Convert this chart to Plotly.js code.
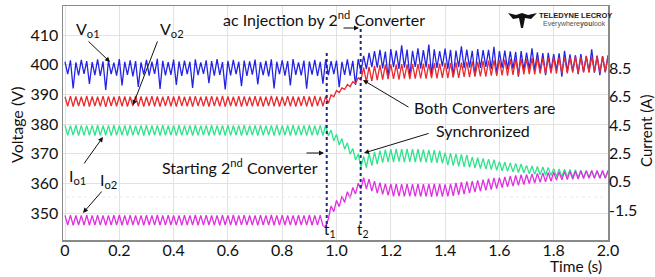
<!DOCTYPE html>
<html><head><meta charset="utf-8">
<script src="https://cdn.plot.ly/plotly-3.0.1.min.js"></script>
<style>html,body{margin:0;padding:0;background:#fff;}#chart{width:655px;height:277px;}</style>
</head><body><div id="chart"></div>
<script>
// ---- data ----
const time = [
0,0.01,0.02,0.03,0.04,0.05,0.06,0.07,0.08,0.09,
0.1,0.11,0.12,0.13,0.14,0.15,0.16,0.17,0.18,0.19,
0.2,0.21,0.22,0.23,0.24,0.25,0.26,0.27,0.28,0.29,
0.3,0.31,0.32,0.33,0.34,0.35,0.36,0.37,0.38,0.39,
0.4,0.41,0.42,0.43,0.44,0.45,0.46,0.47,0.48,0.49,
0.5,0.51,0.52,0.53,0.54,0.55,0.56,0.57,0.58,0.59,
0.6,0.61,0.62,0.63,0.64,0.65,0.66,0.67,0.68,0.69,
0.7,0.71,0.72,0.73,0.74,0.75,0.76,0.77,0.78,0.79,
0.8,0.81,0.82,0.83,0.84,0.85,0.86,0.87,0.88,0.89,
0.9,0.91,0.92,0.93,0.94,0.95,0.96,0.97,0.98,0.99,
1.0,1.01,1.02,1.03,1.04,1.05,1.06,1.07,1.08,1.09,
1.1,1.11,1.12,1.13,1.14,1.15,1.16,1.17,1.18,1.19,
1.2,1.21,1.22,1.23,1.24,1.25,1.26,1.27,1.28,1.29,
1.3,1.31,1.32,1.33,1.34,1.35,1.36,1.37,1.38,1.39,
1.4,1.41,1.42,1.43,1.44,1.45,1.46,1.47,1.48,1.49,
1.5,1.51,1.52,1.53,1.54,1.55,1.56,1.57,1.58,1.59,
1.6,1.61,1.62,1.63,1.64,1.65,1.66,1.67,1.68,1.69,
1.7,1.71,1.72,1.73,1.74,1.75,1.76,1.77,1.78,1.79,
1.8,1.81,1.82,1.83,1.84,1.85,1.86,1.87,1.88,1.89,
1.9,1.91,1.92,1.93,1.94,1.95,1.96,1.97,1.98,1.99,
2.0];

// Vo1 (V)
const vo1 = [
401.0,396.8,401.5,392.0,400.8,396.4,401.6,396.9,401.2,393.5,
400.9,396.5,401.8,396.2,401.1,391.5,401.4,396.8,400.7,396.3,
401.9,393.0,401.0,396.6,401.5,396.1,401.2,392.5,400.8,396.7,
401.6,396.3,401.0,396.9,402.0,391.8,401.3,396.4,400.9,396.6,
401.7,393.2,401.1,396.2,401.4,396.8,401.0,392.2,401.8,396.5,
400.8,396.9,401.5,393.8,401.2,396.3,401.9,396.6,400.9,391.7,
401.3,396.4,401.6,396.8,401.0,392.8,401.4,396.2,401.1,396.7,
401.7,393.4,400.9,396.5,401.3,396.1,401.8,392.0,401.0,396.8,
401.5,396.3,401.2,393.0,401.9,396.6,400.8,396.4,401.4,391.9,
401.1,396.7,401.6,396.2,401.0,393.6,401.7,396.5,401.2,396.8,
401.4,392.4,401.0,396.6,401.8,396.3,401.3,393.2,401.9,397.5,
403.0,398.5,404.0,399.2,404.6,399.0,
405.0,398.8,404.4,395.5,405.3,399.2,404.8,398.6,406.5,399.0,
405.1,396.0,404.7,399.3,405.5,398.7,404.9,399.1,406.8,396.5,
405.2,398.9,404.6,399.4,405.4,398.6,405.0,395.8,404.8,399.2,
406.2,398.8,405.1,399.0,404.7,396.2,405.3,398.9,404.9,399.3,
405.0,398.5,406.0,396.8,404.6,398.9,404.8,398.4,404.5,398.6,
404.3,396.0,404.6,398.2,404.1,398.5,405.5,398.0,404.2,397.8,
403.9,396.5,404.0,397.9,403.6,398.1,403.8,396.0,404.7,397.6,
403.5,397.8,403.2,396.8,403.6,397.5,403.0,397.6,405.2,397.3,
403.1,396.5,402.9,397.4,403.2];

// Vo2 (V)
const vo2 = [
389.2,386.0,389.4,385.9,389.3,386.1,389.2,386.0,389.5,385.9,
389.3,386.1,389.2,386.0,389.4,385.8,389.3,386.1,389.2,386.0,
389.4,386.0,389.3,385.9,389.2,386.1,389.5,386.0,389.3,385.9,
389.2,386.1,389.4,386.0,389.3,385.9,389.2,386.1,389.4,386.0,
389.3,385.9,389.5,386.1,389.2,386.0,389.3,385.9,389.4,386.1,
389.2,386.0,389.3,385.9,389.4,386.1,389.2,386.0,389.5,385.9,
389.3,386.1,389.2,386.0,389.4,385.9,389.3,386.1,389.2,386.0,
389.4,386.0,389.3,385.9,389.2,386.1,389.5,386.0,389.3,385.9,
389.2,386.1,389.4,386.0,389.3,385.9,389.2,386.1,389.4,386.0,
389.3,385.9,389.5,386.1,389.2,386.0,389.3,
387.0,389.8,389.2,391.3,390.6,392.2,391.7,393.3,392.6,394.3,393.6,395.6,394.8,
399.0,394.2,399.3,394.5,399.6,394.8,399.9,395.0,400.0,395.1,
400.1,395.2,400.0,395.0,400.2,395.3,400.1,395.1,400.3,395.3,
400.2,395.4,400.4,395.3,400.3,395.5,400.5,395.4,400.4,395.6,
400.6,395.5,400.5,395.7,400.8,395.6,400.7,395.9,401.0,395.8,
401.1,396.0,401.0,396.1,401.3,396.0,401.4,396.3,401.5,396.2,
401.6,396.4,401.7,396.3,401.9,396.6,402.0,396.5,402.1,396.7,
402.0,396.8,402.2,396.7,402.3,397.0,402.2,396.9,402.4,397.1,
402.5,397.0,402.4,397.2,402.6,397.1,402.5,397.3,402.7,397.2,
402.6,397.4,402.8,397.3,402.7,397.5,402.9,397.4,402.8,397.6,
402.9];

// Io1 (A)
const io1 = [
4.48,3.78,4.47,3.79,4.49,3.77,4.48,3.78,4.46,3.79,
4.48,3.77,4.49,3.78,4.47,3.79,4.48,3.76,4.49,3.78,
4.47,3.79,4.48,3.77,4.49,3.78,4.46,3.79,4.48,3.77,
4.49,3.78,4.47,3.79,4.48,3.77,4.49,3.78,4.47,3.79,
4.48,3.76,4.49,3.78,4.47,3.79,4.48,3.77,4.49,3.78,
4.46,3.79,4.48,3.77,4.49,3.78,4.47,3.79,4.48,3.77,
4.49,3.78,4.47,3.79,4.48,3.76,4.49,3.78,4.47,3.79,
4.48,3.77,4.49,3.78,4.46,3.79,4.48,3.77,4.49,3.78,
4.47,3.79,4.48,3.77,4.49,3.78,4.47,3.79,4.48,3.76,
4.49,3.78,4.47,3.79,4.48,3.77,4.49,
3.75,4.15,3.40,3.85,3.10,3.55,2.80,3.25,2.45,2.85,2.05,2.45,1.55,
2.30,1.50,2.50,1.65,2.62,1.75,2.70,1.85,2.78,1.90,
2.80,1.90,2.82,1.92,2.80,1.90,2.82,1.91,2.80,1.90,
2.80,1.90,2.78,1.88,2.76,1.86,2.74,1.84,2.70,1.80,
2.55,1.68,2.52,1.64,2.48,1.60,2.44,1.56,2.40,1.52,
2.25,1.48,2.20,1.44,2.15,1.40,2.10,1.36,2.06,1.32,
1.93,1.28,1.88,1.24,1.84,1.20,1.80,1.16,1.76,1.12,
1.66,1.06,1.62,1.03,1.58,1.00,1.55,0.97,1.52,0.94,
1.43,0.88,1.41,0.86,1.39,0.85,1.37,0.83,1.35,0.81,
1.30,0.80,1.28,0.79,1.27,0.78,1.25,0.77,1.24,0.76,
1.22];

// Io2 (A)
const io2 = [
-1.86,-2.55,-1.85,-2.56,-1.87,-2.54,-1.86,-2.55,-1.84,-2.56,
-1.86,-2.54,-1.85,-2.55,-1.87,-2.56,-1.86,-2.54,-1.85,-2.55,
-1.84,-2.56,-1.86,-2.55,-1.85,-2.54,-1.87,-2.55,-1.86,-2.56,
-1.85,-2.54,-1.86,-2.55,-1.84,-2.56,-1.86,-2.55,-1.85,-2.54,
-1.87,-2.55,-1.86,-2.56,-1.85,-2.54,-1.86,-2.55,-1.84,-2.56,
-1.86,-2.55,-1.85,-2.54,-1.87,-2.55,-1.86,-2.56,-1.85,-2.54,
-1.86,-2.55,-1.84,-2.56,-1.86,-2.55,-1.85,-2.54,-1.87,-2.55,
-1.86,-2.56,-1.85,-2.54,-1.86,-2.55,-1.84,-2.56,-1.86,-2.55,
-1.85,-2.54,-1.87,-2.55,-1.86,-2.56,-1.85,-2.54,-1.86,-2.55,
-1.84,-2.56,-1.86,-2.55,-1.85,-2.60,-2.65,
-2.10,-1.20,-1.60,-0.80,-1.25,-0.50,-0.95,-0.20,-0.65,0.10,-0.35,0.40,0.00,
0.80,0.00,0.70,-0.15,0.55,-0.30,0.45,-0.38,0.38,-0.45,
0.35,-0.52,0.35,-0.53,0.34,-0.54,0.35,-0.53,0.34,-0.54,
0.35,-0.55,0.34,-0.54,0.35,-0.55,0.36,-0.53,0.36,-0.54,
0.32,-0.52,0.36,-0.48,0.42,-0.42,0.48,-0.36,0.54,-0.30,
0.55,-0.22,0.60,-0.16,0.66,-0.10,0.72,-0.04,0.78,0.02,
0.80,0.10,0.85,0.15,0.90,0.20,0.95,0.25,1.00,0.30,
1.02,0.38,1.06,0.42,1.10,0.46,1.13,0.50,1.16,0.54,
1.18,0.62,1.20,0.64,1.22,0.66,1.24,0.68,1.25,0.70,
1.28,0.74,1.29,0.75,1.30,0.76,1.30,0.76,1.31,0.77,
1.31];

// event times (s)
const tStart = 0.964;   // t1: starting 2nd converter
const tSync = 1.089;    // t2: both converters synchronized

// tick labels
const xTickVals = [0,0.2,0.4,0.6,0.8,1.0,1.2,1.4,1.6,1.8,2.0];
const xTickText = ['0','0.2','0.4','0.6','0.8','1.0','1.2','1.4','1.6','1.8','2.0'];
const vTickVals = [350,360,370,380,390,400,410];
const iTickVals = [-1.5,0.5,2.5,4.5,6.5,8.5];
const iTickText = ['-1.5','0.5','2.5','4.5','6.5','8.5'];

// ---- layout helpers (pixel -> paper) ----
const W = 655, H = 277;
const PL = 63, PR = 608, PT = 6, PB = 240;
const F = 'Lato, "Open Sans", sans-serif';
function fx(p){ return (p - PL) / (PR - PL); }
function fy(p){ return (PB - p) / (PB - PT); }
function txt(cx, cy, text, size, extra){
  return Object.assign({xref:'paper', yref:'paper', x:fx(cx), y:fy(cy), xanchor:'center', yanchor:'middle',
    text:text, showarrow:false, font:{family:F, size:size||16, color:'#111'}}, extra||{});
}
function arrow(tx, ty, hx, hy){
  return {xref:'paper', yref:'paper', x:fx(hx), y:fy(hy), ax:tx-hx, ay:ty-hy, axref:'pixel', ayref:'pixel',
    text:'', showarrow:true, arrowhead:2, arrowsize:1, arrowwidth:1, arrowcolor:'#111'};
}

const lw = 1.3;
const traces = [
  {x:time, y:vo1, yaxis:'y', mode:'lines', line:{color:'#2424e6', width:lw}, name:'Vo1'},
  {x:time, y:vo2, yaxis:'y', mode:'lines', line:{color:'#ea2a2f', width:lw}, name:'Vo2'},
  {x:time, y:io1, yaxis:'y2', mode:'lines', line:{color:'#2fe38c', width:lw}, name:'Io1'},
  {x:time, y:io2, yaxis:'y2', mode:'lines', line:{color:'#e02fe0', width:lw}, name:'Io2'}
];

const annotations = [
  txt(88, 30, 'V<sub>o1</sub>', 16),
  txt(172, 30, 'V<sub>o2</sub>', 16),
  txt(324, 18, 'ac Injection by 2<sup>nd</sup> Converter', 16),
  txt(484, 107, 'Both Converters are', 16),
  txt(483, 130, 'Synchronized', 16),
  txt(240, 166, 'Starting 2<sup>nd</sup> Converter', 16),
  txt(77, 176, 'I<sub>o1</sub>', 16),
  txt(108, 180, 'I<sub>o2</sub>', 16),
  txt(329, 230, 't<sub>1</sub>', 15),
  txt(362, 230, 't<sub>2</sub>', 15),
  txt(576, 266, 'Time (s)', 15.5),
  txt(16, 125, 'Voltage (V)', 16, {textangle:-90}),
  txt(646, 131, 'Current (A)', 15, {textangle:-90}),
  txt(575, 16, '<b>TELEDYNE LECROY</b>', 7.5, {font:{family:'"Liberation Sans", Arial, sans-serif', size:7.5, color:'#222'}}),
  txt(574, 24, 'Everywhere<b>you</b>look', 7, {font:{family:'"Liberation Sans", Arial, sans-serif', size:7, color:'#555'}}),
  arrow(87, 40, 110, 62),
  arrow(158, 40, 133, 105),
  arrow(342, 28, 359, 28),
  arrow(410, 108, 363, 80),
  arrow(430, 133, 364, 153),
  arrow(305, 153, 324, 153),
  arrow(83, 165, 103, 137),
  arrow(103, 190, 83, 213)
];

// logo emblem path in paper coordinates
function P(x, y){ return fx(x) + ',' + fy(y); }
const logoPath = 'M' + P(508,13) + ' L' + P(516,15) + ' L' + P(522,13) + ' L' + P(528,15) + ' L' + P(537,13) +
  ' L' + P(531,19) + ' L' + P(525,18) + ' L' + P(523,28) + ' L' + P(521,28) + ' L' + P(519,18) +
  ' L' + P(513,19) + ' Z';

const shapes = [
  {type:'line', xref:'x', yref:'paper', x0:tStart, x1:tStart, y0:fy(224), y1:fy(52),
   line:{color:'#1b2a80', width:2, dash:'dot'}},
  {type:'line', xref:'x', yref:'paper', x0:tSync, x1:tSync, y0:fy(224), y1:fy(28),
   line:{color:'#1b2a80', width:2, dash:'dot'}},
  {type:'line', xref:'paper', yref:'paper', x0:fx(66), x1:fx(606), y0:fy(197), y1:fy(197),
   line:{color:'#ececec', width:1, dash:'dot'}},
  {type:'path', xref:'paper', yref:'paper', path:logoPath, fillcolor:'#111', line:{width:0}}
];

const layout = {
  width: W, height: H,
  margin: {l:PL, r:W-PR, t:PT, b:H-PB, pad:0},
  paper_bgcolor:'#fff', plot_bgcolor:'#fff',
  showlegend:false,
  font:{family:F, size:16, color:'#111'},
  xaxis:{range:[-0.0074, 2.0], tickvals:xTickVals, ticktext:xTickText, showgrid:true, gridcolor:'#e2e2e2',
    gridwidth:1, zeroline:false, showline:true, linecolor:'#8a8a8a', linewidth:1.5, mirror:true, ticks:'',
    ticklabelstandoff:-5,
    tickfont:{family:F, size:16, color:'#111'}},
  yaxis:{range:[340.9, 419.8], tickvals:vTickVals, showgrid:true, gridcolor:'#e2e2e2', gridwidth:1,
    zeroline:false, showline:true, linecolor:'#8a8a8a', linewidth:1.5, mirror:true, ticks:'',
    tickfont:{family:F, size:16, color:'#111'}},
  yaxis2:{range:[-3.6, 12.9], overlaying:'y', side:'right', tickvals:iTickVals, ticktext:iTickText,
    showgrid:false, zeroline:false, showline:false, ticks:'',
    tickfont:{family:F, size:16, color:'#111'}},
  annotations: annotations,
  shapes: shapes
};

Plotly.newPlot('chart', traces, layout, {staticPlot:true, displayModeBar:false});
</script>
</body></html>
